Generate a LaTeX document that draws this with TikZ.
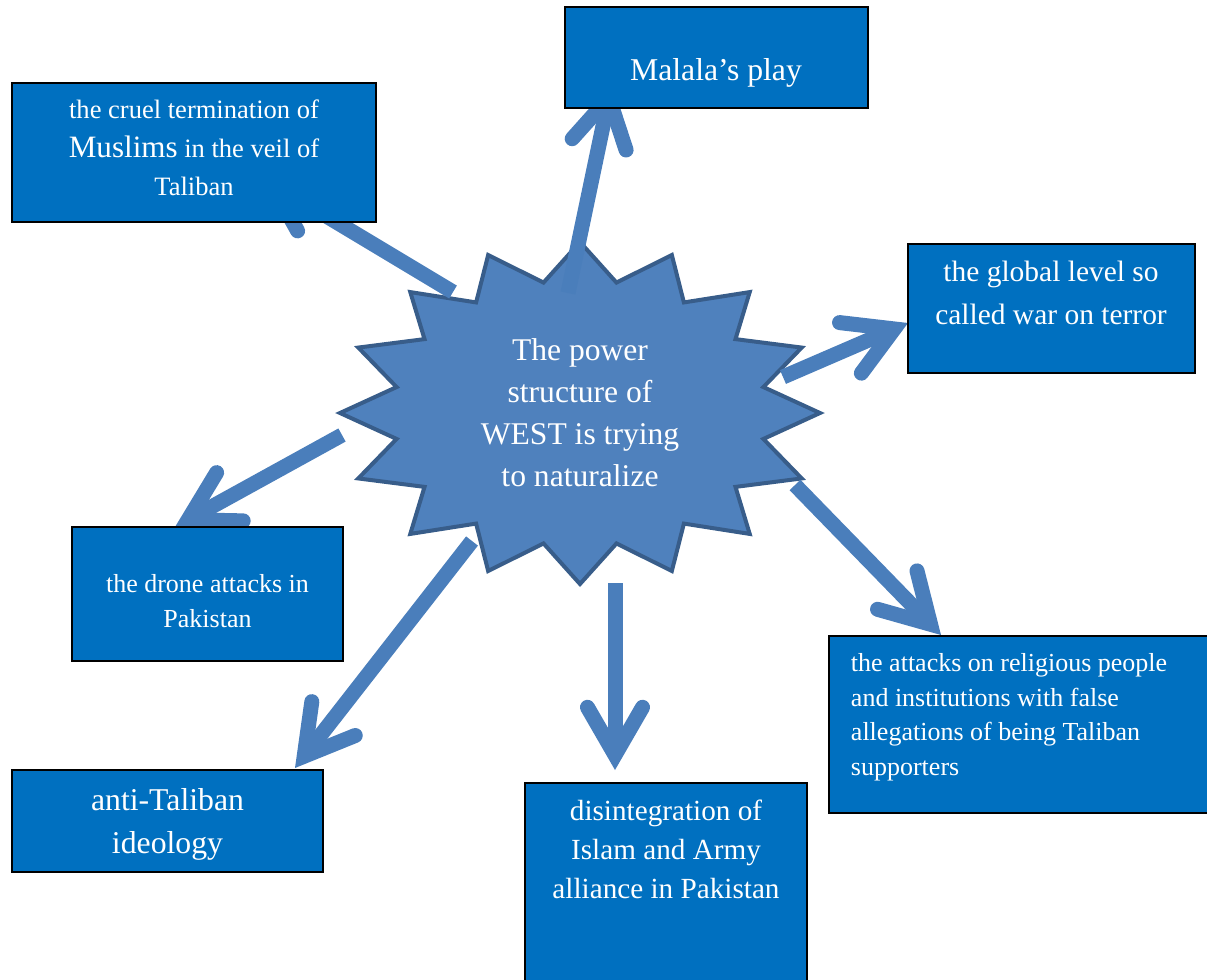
\documentclass[tikz,border=0pt]{standalone}
\usepackage{fontspec}
\setmainfont{Liberation Serif}
\usetikzlibrary{calc,fit}

\definecolor{boxblue}{HTML}{0070C0}
\definecolor{hubfill}{HTML}{4F81BD}
\definecolor{hubline}{HTML}{385D8A}
\definecolor{arrowblue}{HTML}{4A7EBB}

\tikzset{
  panel/.style={rectangle, draw=black, line width=1.5pt, fill=boxblue, inner sep=0pt},
  caption/.style={text=white, inner sep=0pt, align=center},
  shaft/.style={draw=arrowblue, line width=11.25pt, line cap=butt},
  barbs/.style={draw=arrowblue, line width=11.25pt, line cap=round, line join=miter},
}

% thick arrow from #1 to #2 with an open head of two round-ended barbs
\newcommand\fatarrow[2]{%
  \coordinate (#2-v) at ($(#2)!11.25pt!(#1)$);
  \draw[shaft] (#1) -- (#2-v);
  \draw[barbs] ($(#2-v)!41.3pt!30:(#1)$) -- (#2-v) -- ($(#2-v)!41.3pt!-30:(#1)$);
}

\begin{document}
\begin{tikzpicture}[x=0.75pt, y=-0.75pt]
\useasboundingbox (0,0) rectangle (1207,979);

% central sixteen-point star
\begin{scope}[shift={(580,413)}]
  \draw[fill=hubfill, draw=hubline, line width=3pt, line join=miter]
    (0:240 and 171)
    \foreach \i in {1,...,31}{ -- ({\i*11.25}:{240-53*mod(\i,2)} and {171-38*mod(\i,2)}) }
    -- cycle;
\end{scope}
\node[caption, font=\fontsize{23.7pt}{31.5pt}\selectfont] (hub) at (580,412.5)
  {The power\\structure of\\WEST is trying\\to naturalize};

% arrow ends
\coordinate (sA) at (453,292);  \coordinate (tA) at (258,175);
\coordinate (sB) at (568,293);  \coordinate (tB) at (612,83);
\coordinate (sC) at (783,377);  \coordinate (tC) at (908,323);
\coordinate (sD) at (795,485);  \coordinate (tD) at (941,635);
\coordinate (sE) at (615,583);  \coordinate (tE) at (615,770);
\coordinate (sF) at (472,541);  \coordinate (tF) at (295,768);
\coordinate (sG) at (342,435);  \coordinate (tG) at (175,527);

\fatarrow{sA}{tA}
\fatarrow{sB}{tB}
\fatarrow{sC}{tC}
\fatarrow{sD}{tD}
\fatarrow{sE}{tE}
\fatarrow{sF}{tF}
\fatarrow{sG}{tG}

% boxes
\node[panel, fit={(12,83) (376,222)}] (cruel) {};
\node[panel, fit={(565,7) (868,108)}] (malala) {};
\node[panel, fit={(908,244) (1195,373)}] (global) {};
\node[panel, fit={(72,527) (343,661)}] (drone) {};
\node[panel, fit={(12,770) (323,872)}] (anti) {};
\node[panel, fit={(525,783) (807,990)}] (disint) {};
\node[panel, fit={(829,636) (1215,813)}] (attacks) {};

% box texts
\node[caption, font=\fontsize{19.9pt}{28.9pt}\selectfont] (cruel-t) at (194,148)
  {the cruel termination of\\{\fontsize{23.3pt}{28.9pt}\selectfont Muslims} in the veil of\\Taliban};
\node[caption, font=\fontsize{23.8pt}{30pt}\selectfont] (malala-t) at (716,72.5)
  {Malala’s play};
\node[caption, font=\fontsize{22.1pt}{32.3pt}\selectfont] (global-t) at (1051,293)
  {the global level so\\called war on terror};
\node[caption, font=\fontsize{19.5pt}{26.3pt}\selectfont] (drone-t) at (207.5,601.5)
  {the drone attacks in\\Pakistan};
\node[caption, font=\fontsize{23.8pt}{32.3pt}\selectfont] (anti-t) at (167.5,824)
  {anti-Taliban\\ideology};
\node[caption, font=\fontsize{21.9pt}{29.3pt}\selectfont] (disint-t) at (666,849)
  {disintegration of\\Islam and Army\\alliance in Pakistan};
\node[caption, align=left, anchor=west, font=\fontsize{19.5pt}{25.9pt}\selectfont] (attacks-t) at (850.7,717.2)
  {the attacks on religious people\\and institutions with false\\allegations of being Taliban\\supporters};
\end{tikzpicture}
\end{document}
